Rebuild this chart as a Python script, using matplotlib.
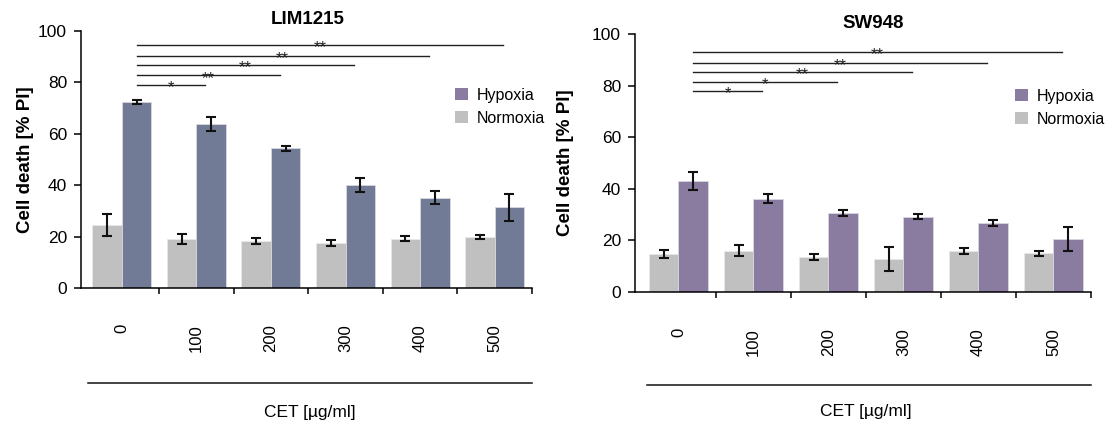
import numpy as np
import matplotlib
matplotlib.use("Agg")
import matplotlib.pyplot as plt
from matplotlib.patches import Patch

plt.rcParams.update({"font.family": ["Liberation Sans", "DejaVu Sans"],
                     "font.size": 12, "axes.linewidth": 1.1})

NORM_C, LEG_HYP = "#c0c0c0", "#8a7ba0"
LIM_HYP_C, SW_HYP_C = "#727b95", "#8a7ba0"

DOSES = ["0", "100", "200", "300", "400", "500"]

LIM_NORM = [24.6, 19.2, 18.2, 17.5, 19.2, 19.8]
LIM_NORM_ERR = [4.3, 2.0, 1.2, 1.0, 0.9, 0.9]
LIM_HYP = [72.3, 63.8, 54.3, 40.1, 35.2, 31.4]
LIM_HYP_ERR = [0.8, 2.7, 0.9, 2.9, 2.4, 5.2]

SW_NORM = [14.7, 16.0, 13.6, 12.7, 15.7, 14.9]
SW_NORM_ERR = [1.6, 2.0, 1.1, 4.5, 1.2, 1.0]
SW_HYP = [42.9, 36.1, 30.6, 29.2, 26.7, 20.4]
SW_HYP_ERR = [3.5, 1.8, 1.1, 0.9, 1.2, 4.7]

# hypoxia 0 vs hypoxia 100..500: bracket height and label
LIM_SIG_Y = [79.0, 82.7, 86.7, 90.2, 94.7]
LIM_SIG = ["*", "**", "**", "**", "**"]
SW_SIG_Y = [78.1, 81.5, 85.4, 88.7, 93.1]
SW_SIG = ["*", "*", "**", "**", "**"]


def panel(ax, title, norm, nerr, hyp, herr, hcol, sig_y, sig_lab, w,
          xleft, title_x, ylab_x, line_x0, line_y, xlab_y, leg_xy):
    x = np.arange(len(DOSES))
    ax.bar(x - w / 2, norm, w, color=NORM_C, edgecolor="#e8e8e8", lw=0.6, zorder=2)
    ax.bar(x + w / 2, hyp, w, color=hcol, edgecolor="#d8d8e0", lw=0.6, zorder=2)
    for xs, v, e in [(x - w / 2, norm, nerr), (x + w / 2, hyp, herr)]:
        ax.errorbar(xs, v, yerr=e, fmt="none", ecolor="#111111", elinewidth=1.5,
                    capsize=3.6, capthick=1.5, zorder=3)
    for k, (y, lab) in enumerate(zip(sig_y, sig_lab)):
        x0, x1 = x[0] + w / 2, x[k + 1] + w / 2 - 0.08
        ax.plot([x0, x1], [y, y], color="#222222", lw=1.0, zorder=3)
        ax.annotate(lab, ((x0 + x1) / 2, y), xytext=(0, -5.2),
                    textcoords="offset points", ha="center", va="baseline",
                    fontsize=12, color="#222222")

    ax.set_xlim(xleft, len(DOSES) - 0.5)
    ax.set_ylim(0, 100)
    ax.set_yticks(range(0, 101, 20))
    ax.tick_params(axis="y", direction="out", length=5, width=1.1, pad=5,
                   labelsize=12.5)
    ax.set_xticks(x)
    ax.set_xticklabels(DOSES, rotation=90, va="top", fontsize=12)
    ax.tick_params(axis="x", which="major", length=0, pad=26)
    ax.set_xticks(x + 0.5, minor=True)
    ax.tick_params(axis="x", which="minor", direction="out", length=4, width=1.1)
    for s in ["top", "right"]:
        ax.spines[s].set_visible(False)

    ax.text(title_x, 1.043, title, transform=ax.transAxes, ha="center",
            va="center", fontsize=13.5, weight="bold")
    ax.text(ylab_x, 0.5, "Cell death [% PI]", transform=ax.transAxes,
            rotation=90, ha="center", va="center", fontsize=13.5, weight="bold")
    ax.plot([line_x0, 1.0], [line_y, line_y], transform=ax.transAxes,
            color="#111111", lw=1.1, clip_on=False)
    ax.text(0.507, xlab_y, "CET [µg/ml]", transform=ax.transAxes,
            ha="center", va="center", fontsize=12.5)

    handles = [Patch(facecolor=LEG_HYP), Patch(facecolor=NORM_C)]
    ax.legend(handles, ["Hypoxia", "Normoxia"], loc="upper left",
              bbox_to_anchor=leg_xy, frameon=False, fontsize=11.5,
              handlelength=0.8, handleheight=0.8, handletextpad=0.6,
              labelspacing=0.5, borderpad=0, borderaxespad=0)


fig = plt.figure(figsize=(11.06, 4.23), dpi=100)
ax1 = fig.add_axes([0.0732, 0.3191, 0.4078, 0.6076])
ax2 = fig.add_axes([0.5741, 0.3104, 0.4123, 0.6085])

panel(ax1, "LIM1215", LIM_NORM, LIM_NORM_ERR, LIM_HYP, LIM_HYP_ERR, LIM_HYP_C,
      LIM_SIG_Y, LIM_SIG, 0.396, -0.547, 0.503, -0.124, 0.0155, -0.371, -0.486,
      (0.829, 0.78))
panel(ax2, "SW948", SW_NORM, SW_NORM_ERR, SW_HYP, SW_HYP_ERR, SW_HYP_C,
      SW_SIG_Y, SW_SIG, 0.39, -0.58, 0.522, -0.153, 0.027, -0.3625, -0.4635,
      (0.833, 0.789))

fig.savefig("out.png", dpi=100)
